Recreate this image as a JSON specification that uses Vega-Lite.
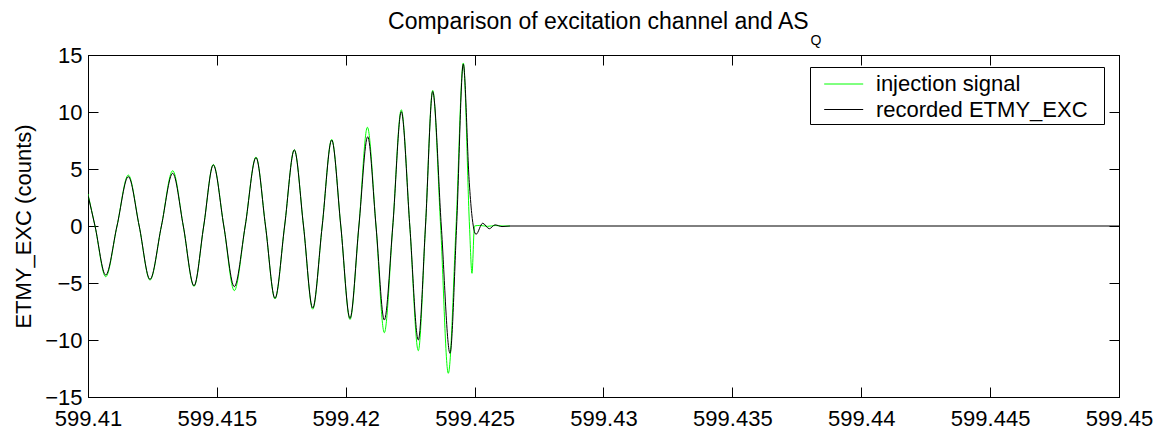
{
  "$schema": "https://vega.github.io/schema/vega-lite/v6.json",
  "autosize": {"type": "none"},
  "width": 1031,
  "height": 342,
  "padding": {"left": 88, "top": 55, "right": 36, "bottom": 33},
  "background": "white",
  "title": {
    "text": "Comparison of excitation channel and AS\u00a0\u00a0\u200b",
    "subtitle": "Q",
    "anchor": "middle",
    "align": "right",
    "dx": 218,
    "font": "Liberation Sans",
    "fontSize": 23,
    "fontWeight": "normal",
    "color": "black",
    "subtitleFont": "Liberation Sans",
    "subtitleFontSize": 14,
    "subtitleColor": "black",
    "subtitlePadding": 0,
    "offset": -4
  },
  "datasets": {
    "injection": [
      {"t": 599.410000, "v": 2.8, "series": "injection signal"},
      {"t": 599.410272, "v": 0, "series": "injection signal"},
      {"t": 599.410687, "v": -4.45, "series": "injection signal"},
      {"t": 599.411125, "v": 0, "series": "injection signal"},
      {"t": 599.411564, "v": 4.47, "series": "injection signal"},
      {"t": 599.411986, "v": 0, "series": "injection signal"},
      {"t": 599.412405, "v": -4.75, "series": "injection signal"},
      {"t": 599.412848, "v": 0, "series": "injection signal"},
      {"t": 599.413286, "v": 4.85, "series": "injection signal"},
      {"t": 599.413697, "v": 0, "series": "injection signal"},
      {"t": 599.414113, "v": -5.3, "series": "injection signal"},
      {"t": 599.414489, "v": 0, "series": "injection signal"},
      {"t": 599.414861, "v": 5.4, "series": "injection signal"},
      {"t": 599.415269, "v": 0, "series": "injection signal"},
      {"t": 599.415676, "v": -5.67, "series": "injection signal"},
      {"t": 599.416099, "v": 0, "series": "injection signal"},
      {"t": 599.416518, "v": 6.05, "series": "injection signal"},
      {"t": 599.416887, "v": 0, "series": "injection signal"},
      {"t": 599.417255, "v": -6.4, "series": "injection signal"},
      {"t": 599.417628, "v": 0, "series": "injection signal"},
      {"t": 599.418004, "v": 6.7, "series": "injection signal"},
      {"t": 599.418361, "v": 0, "series": "injection signal"},
      {"t": 599.418718, "v": -7.3, "series": "injection signal"},
      {"t": 599.419086, "v": 0, "series": "injection signal"},
      {"t": 599.419455, "v": 7.6, "series": "injection signal"},
      {"t": 599.419808, "v": 0, "series": "injection signal"},
      {"t": 599.420165, "v": -8.2, "series": "injection signal"},
      {"t": 599.420510, "v": 0, "series": "injection signal"},
      {"t": 599.420840, "v": 8.66, "series": "injection signal"},
      {"t": 599.421174, "v": 0, "series": "injection signal"},
      {"t": 599.421496, "v": -9.36, "series": "injection signal"},
      {"t": 599.421825, "v": 0, "series": "injection signal"},
      {"t": 599.422155, "v": 10.2, "series": "injection signal"},
      {"t": 599.422485, "v": 0, "series": "injection signal"},
      {"t": 599.422815, "v": -10.94, "series": "injection signal"},
      {"t": 599.423094, "v": 0, "series": "injection signal"},
      {"t": 599.423373, "v": 11.9, "series": "injection signal"},
      {"t": 599.423680, "v": 0, "series": "injection signal"},
      {"t": 599.423979, "v": -12.92, "series": "injection signal"},
      {"t": 599.424280, "v": 0, "series": "injection signal"},
      {"t": 599.424561, "v": 14.3, "series": "injection signal"},
      {"t": 599.424801, "v": 0, "series": "injection signal"},
      {"t": 599.424898, "v": -4.15, "series": "injection signal"},
      {"t": 599.424995, "v": 0, "series": "injection signal"},
      {"t": 599.425200, "v": 0.05, "series": "injection signal"},
      {"t": 599.425500, "v": -0.03, "series": "injection signal"},
      {"t": 599.425800, "v": 0.04, "series": "injection signal"},
      {"t": 599.426100, "v": 0, "series": "injection signal"},
      {"t": 599.426372, "v": 0, "series": "injection signal"}
    ],
    "recorded": [
      {"t": 599.410000, "v": 2.7, "series": "recorded ETMY_EXC"},
      {"t": 599.410272, "v": 0, "series": "recorded ETMY_EXC"},
      {"t": 599.410687, "v": -4.3, "series": "recorded ETMY_EXC"},
      {"t": 599.411125, "v": 0, "series": "recorded ETMY_EXC"},
      {"t": 599.411564, "v": 4.33, "series": "recorded ETMY_EXC"},
      {"t": 599.411986, "v": 0, "series": "recorded ETMY_EXC"},
      {"t": 599.412405, "v": -4.68, "series": "recorded ETMY_EXC"},
      {"t": 599.412848, "v": 0, "series": "recorded ETMY_EXC"},
      {"t": 599.413286, "v": 4.62, "series": "recorded ETMY_EXC"},
      {"t": 599.413697, "v": 0, "series": "recorded ETMY_EXC"},
      {"t": 599.414113, "v": -5.24, "series": "recorded ETMY_EXC"},
      {"t": 599.414489, "v": 0, "series": "recorded ETMY_EXC"},
      {"t": 599.414861, "v": 5.35, "series": "recorded ETMY_EXC"},
      {"t": 599.415269, "v": 0, "series": "recorded ETMY_EXC"},
      {"t": 599.415676, "v": -5.32, "series": "recorded ETMY_EXC"},
      {"t": 599.416099, "v": 0, "series": "recorded ETMY_EXC"},
      {"t": 599.416518, "v": 6.0, "series": "recorded ETMY_EXC"},
      {"t": 599.416887, "v": 0, "series": "recorded ETMY_EXC"},
      {"t": 599.417255, "v": -6.34, "series": "recorded ETMY_EXC"},
      {"t": 599.417628, "v": 0, "series": "recorded ETMY_EXC"},
      {"t": 599.418004, "v": 6.67, "series": "recorded ETMY_EXC"},
      {"t": 599.418361, "v": 0, "series": "recorded ETMY_EXC"},
      {"t": 599.418718, "v": -7.2, "series": "recorded ETMY_EXC"},
      {"t": 599.419086, "v": 0, "series": "recorded ETMY_EXC"},
      {"t": 599.419455, "v": 7.54, "series": "recorded ETMY_EXC"},
      {"t": 599.419808, "v": 0, "series": "recorded ETMY_EXC"},
      {"t": 599.420165, "v": -8.1, "series": "recorded ETMY_EXC"},
      {"t": 599.420510, "v": 0, "series": "recorded ETMY_EXC"},
      {"t": 599.420852, "v": 7.83, "series": "recorded ETMY_EXC"},
      {"t": 599.421174, "v": 0, "series": "recorded ETMY_EXC"},
      {"t": 599.421496, "v": -8.25, "series": "recorded ETMY_EXC"},
      {"t": 599.421825, "v": 0, "series": "recorded ETMY_EXC"},
      {"t": 599.422155, "v": 10.03, "series": "recorded ETMY_EXC"},
      {"t": 599.422485, "v": 0, "series": "recorded ETMY_EXC"},
      {"t": 599.422815, "v": -10.0, "series": "recorded ETMY_EXC"},
      {"t": 599.423094, "v": 0, "series": "recorded ETMY_EXC"},
      {"t": 599.423373, "v": 11.8, "series": "recorded ETMY_EXC"},
      {"t": 599.423707, "v": 0, "series": "recorded ETMY_EXC"},
      {"t": 599.424045, "v": -11.17, "series": "recorded ETMY_EXC"},
      {"t": 599.424301, "v": 0, "series": "recorded ETMY_EXC"},
      {"t": 599.424561, "v": 14.2, "series": "recorded ETMY_EXC"},
      {"t": 599.424793, "v": 3.8, "series": "recorded ETMY_EXC"},
      {"t": 599.424887, "v": 1.1, "series": "recorded ETMY_EXC"},
      {"t": 599.425053, "v": -0.73, "series": "recorded ETMY_EXC"},
      {"t": 599.425313, "v": 0.24, "series": "recorded ETMY_EXC"},
      {"t": 599.425569, "v": -0.24, "series": "recorded ETMY_EXC"},
      {"t": 599.425790, "v": 0.1, "series": "recorded ETMY_EXC"},
      {"t": 599.426062, "v": -0.05, "series": "recorded ETMY_EXC"},
      {"t": 599.426372, "v": 0, "series": "recorded ETMY_EXC"},
      {"t": 599.450000, "v": 0, "series": "recorded ETMY_EXC"}
    ]
  },
  "layer": [
    {
      "data": {"name": "injection"},
      "mark": {"type": "line", "interpolate": "monotone", "strokeWidth": 1, "clip": true},
      "encoding": {
        "x": {
          "field": "t", "type": "quantitative",
          "scale": {"domain": [599.41, 599.45], "nice": false, "zero": false},
          "axis": {
            "orient": "bottom", "title": null, "grid": false,
            "values": [599.41, 599.415, 599.42, 599.425, 599.43, 599.435, 599.44, 599.445, 599.45],
            "format": ".3~f", "tickSize": -10, "labelPadding": 21,
            "labelFlush": false, "labelOverlap": false
          }
        },
        "y": {
          "field": "v", "type": "quantitative",
          "scale": {"domain": [-15, 15], "nice": false, "zero": false},
          "axis": {
            "orient": "left", "title": "ETMY_EXC (counts)", "grid": false,
            "values": [-15, -10, -5, 0, 5, 10, 15],
            "tickSize": -10, "labelPadding": 16, "titlePadding": 9,
            "labelFlush": false, "labelOverlap": false
          }
        },
        "color": {
          "field": "series", "type": "nominal",
          "scale": {"domain": ["injection signal", "recorded ETMY_EXC"], "range": ["#00ff00", "#000000"]},
          "legend": {
            "title": null, "orient": "none", "legendX": 722, "legendY": 12,
            "symbolType": "M-1.5,0H1.5", "symbolSize": 676, "symbolStrokeWidth": 1,
            "symbolOffset": 16.7,
            "labelFont": "Liberation Sans", "labelFontSize": 22, "labelColor": "black",
            "labelLimit": 0,
            "labelExpr": "datum.label + '\u00a0\u00a0\u200b'",
            "labelOffset": 18.8, "padding": 3.5,
            "strokeColor": "black", "fillColor": "white", "cornerRadius": 0,
            "rowPadding": 0.5
          }
        }
      }
    },
    {
      "data": {"name": "recorded"},
      "mark": {"type": "line", "interpolate": "monotone", "strokeWidth": 1, "clip": true},
      "encoding": {
        "x": {
          "field": "t", "type": "quantitative",
          "axis": {
            "orient": "top", "title": null, "grid": false, "labels": false,
            "values": [599.41, 599.415, 599.42, 599.425, 599.43, 599.435, 599.44, 599.445, 599.45],
            "tickSize": -10
          }
        },
        "y": {
          "field": "v", "type": "quantitative",
          "axis": {
            "orient": "right", "title": null, "grid": false, "labels": false,
            "values": [-15, -10, -5, 0, 5, 10, 15],
            "tickSize": -10
          }
        },
        "color": {"field": "series", "type": "nominal"}
      }
    }
  ],
  "resolve": {"axis": {"x": "independent", "y": "independent"}},
  "config": {
    "font": "Liberation Sans",
    "view": {"stroke": "black", "strokeWidth": 1},
    "axis": {
      "domainColor": "black", "tickColor": "black", "labelColor": "black",
      "labelFont": "Liberation Sans", "labelFontSize": 22,
      "titleFont": "Liberation Sans", "titleFontSize": 22, "titleFontWeight": "normal", "titleColor": "black",
      "domainWidth": 1, "tickWidth": 1
    }
  }
}
